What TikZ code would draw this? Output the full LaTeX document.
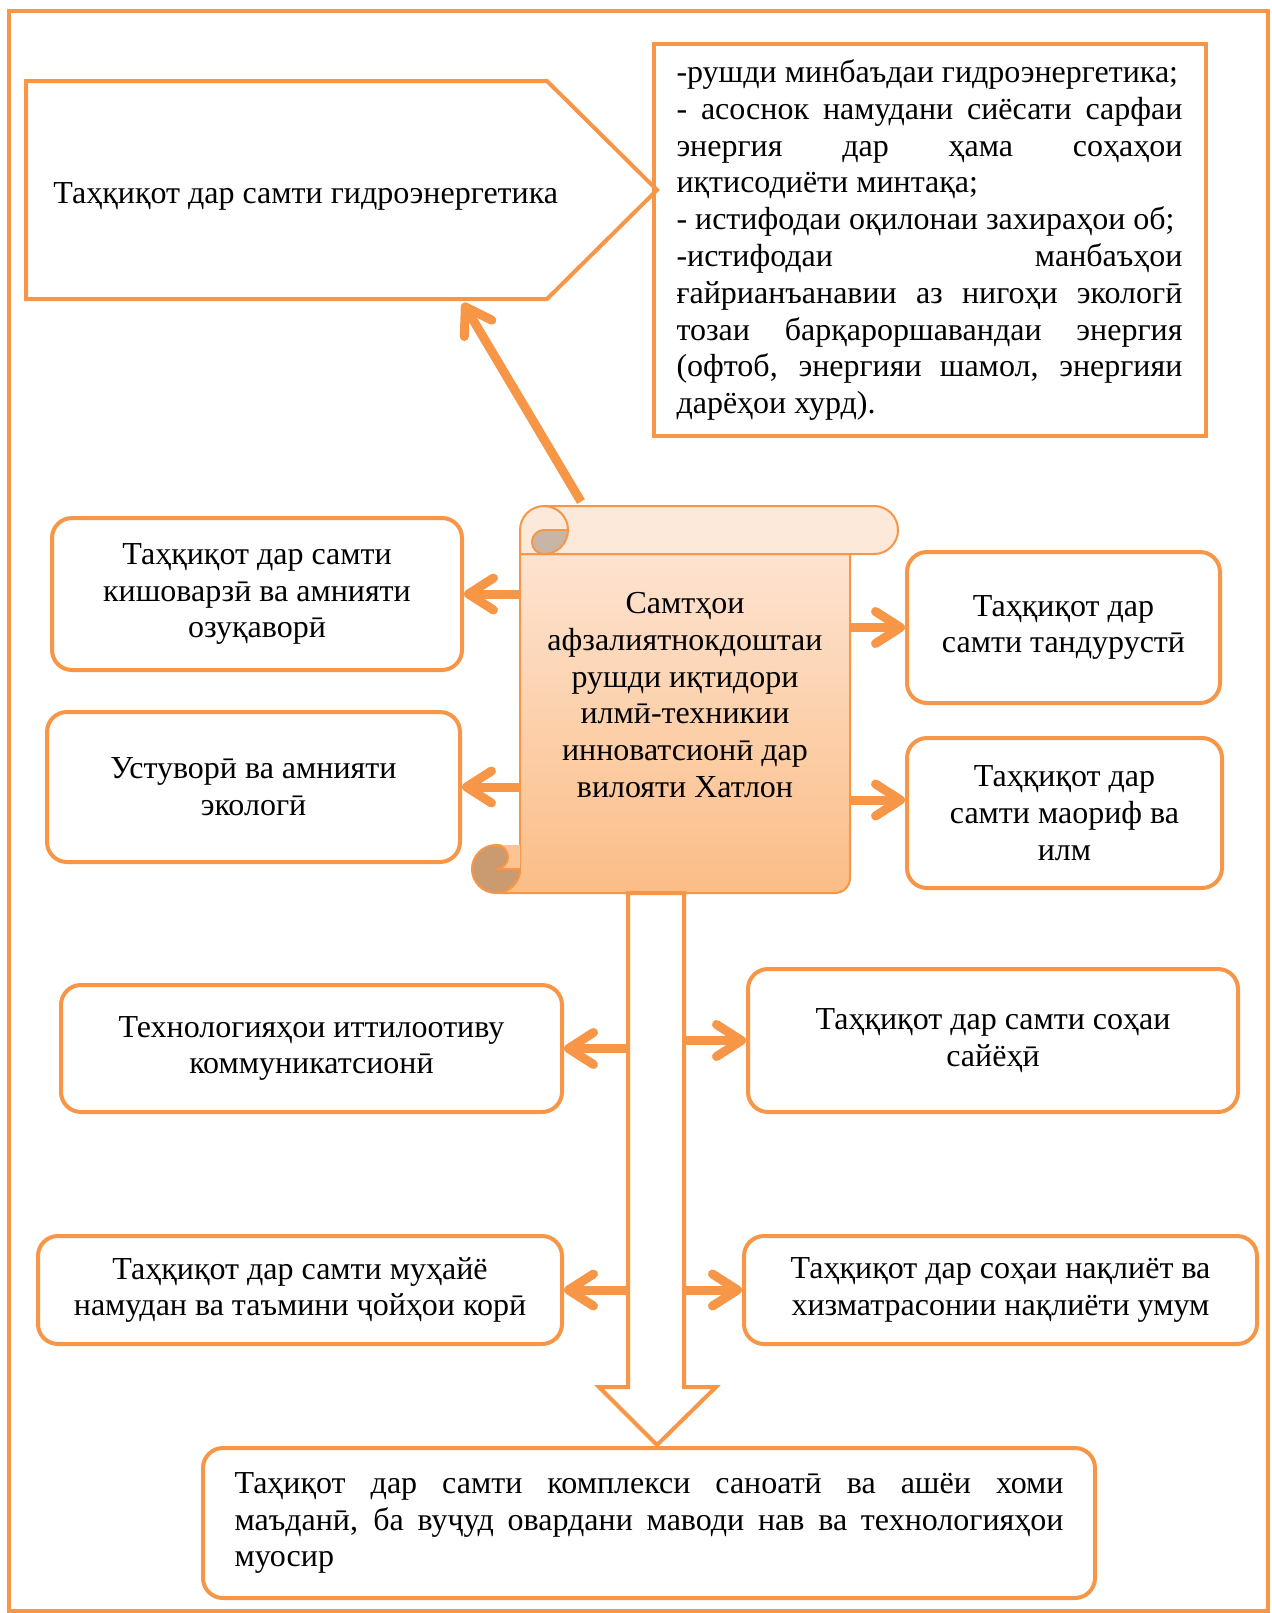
\documentclass[tikz,border=0pt]{standalone}
\usepackage{fontspec}
\setmainfont{Liberation Serif}
\usetikzlibrary{positioning,arrows.meta,calc}
\definecolor{accent}{HTML}{F79646}
\definecolor{rollfill}{HTML}{FDE9DA}
\definecolor{scrolltop}{HTML}{FDE3D0}
\definecolor{scrollbot}{HTML}{FBBD86}
\definecolor{curltop}{HTML}{C9B5A6}
\definecolor{curlbot}{HTML}{CA9A70}
\definecolor{notch}{HTML}{FCC493}
\newcommand{\boxfont}{\fontsize{16}{18.4}\selectfont}
\hyphenpenalty=10000
\exhyphenpenalty=10000
\tolerance=10000

\begin{document}
\begin{tikzpicture}[x=0.5pt,y=-0.5pt]
\tikzstyle{every node}=[font=\boxfont,inner sep=2pt]
\tikzstyle{topic}=[draw=accent,line width=2pt,rounded corners=10pt,fill=white,align=center]
\tikzstyle{arr}=[draw=accent,line width=4.5pt,-{Straight Barb[length=12.5pt,width=16pt,round]}]
\useasboundingbox (0,0) rectangle (1271,1613);
\draw[accent,line width=2pt] (9,11) rectangle (1268,1611);

\draw[accent,line width=2pt] (26,81) -- (547,81) -- (657,190) -- (547,299) -- (26,299) -- cycle;
\node[anchor=west] (hydro) at (49,196) {Таҳқиқот дар самти гидроэнергетика};
\coordinate (hydrotip) at (463,303);

\node[draw=accent,line width=2pt,text width=253pt,align=justify,inner xsep=11.5pt,minimum height=196pt] (goals) at (929.5,240)
  {-рушди минбаъдаи гидроэнергетика;\\
   - асоснок намудани сиёсати сарфаи\linebreak энергия дар ҳама соҳаҳои\linebreak иқтисодиёти минтақа;\\
   - истифодаи оқилонаи захираҳои об;\\
   -истифодаи манбаъҳои\linebreak ғайрианъанавии аз нигоҳи экологӣ\linebreak тозаи барқароршавандаи энергия\linebreak (офтоб, энергияи шамол, энергияи\linebreak дарёҳои хурд).};

\shade[top color=scrolltop,bottom color=scrollbot,draw=accent,line width=1pt]
  (520,554) -- (850,554) -- (850,878) arc[start angle=0,end angle=90,radius=15] -- (496,893) arc[start angle=90,end angle=0,radius=24] -- cycle;
\filldraw[fill=curlbot,draw=accent,line width=1pt] (496,869) circle[radius=24];
\fill[notch] (496,845) -- (520,845) -- (520,869) -- (496,869) arc[start angle=90,end angle=-90,radius=12] -- cycle;
\draw[accent,line width=1pt] (520,869) -- (496,869) arc[start angle=90,end angle=-90,radius=12];
\filldraw[fill=rollfill,draw=accent,line width=1pt]
  (520,554) -- (520,530) arc[start angle=180,end angle=270,radius=24] -- (874,506) arc[start angle=270,end angle=450,radius=24] -- cycle;
\filldraw[fill=curltop,draw=accent,line width=1pt]
  (544,530) -- (568,530) arc[start angle=0,end angle=90,radius=24] arc[start angle=90,end angle=270,radius=12] -- cycle;
\draw[accent,line width=1pt] (544,506) arc[start angle=270,end angle=360,radius=24];
\node[align=center,minimum width=165pt,minimum height=189pt] (scroll) at (685,695)
  {Самтҳои\\афзалиятнокдоштаи\\рушди иқтидори\\илмӣ-техникии\\инноватсионӣ дар\\вилояти Хатлон};

\filldraw[fill=white,draw=accent,line width=2pt]
  (628,893) -- (628,1387) -- (599,1387) -- (657,1445) -- (716,1387) -- (684,1387) -- (684,893) -- cycle;
\coordinate (shaftL) at (628,0);
\coordinate (shaftR) at (684,0);

\node[topic,minimum width=205pt,minimum height=76pt] (agri) at (257,594) {Таҳқиқот дар самти\\кишоварзӣ ва амнияти\\озуқаворӣ};
\node[topic,minimum width=206.5pt,minimum height=75pt] (eco) at (253.5,787) {Устуворӣ ва амнияти\\экологӣ};
\node[topic,minimum width=156.5pt,minimum height=75.5pt] (health) at (1063.5,627.5) {Таҳқиқот дар\\самти тандурустӣ};
\node[topic,minimum width=157.5pt,minimum height=75pt] (science) at (1064.5,813) {Таҳқиқот дар\\самти маориф ва\\илм};
\node[topic,minimum width=250.5pt,minimum height=63.5pt] (ict) at (311.5,1048.5) {Технологияҳои иттилоотиву\\коммуникатсионӣ};
\node[topic,minimum width=245pt,minimum height=71.5pt] (tour) at (993,1040.5) {Таҳқиқот дар самти соҳаи\\сайёҳӣ};
\node[topic,minimum width=262pt,minimum height=54pt] (jobs) at (300,1290) {Таҳқиқот дар самти муҳайё\\намудан ва таъмини ҷойҳои корӣ};
\node[topic,minimum width=256.5pt,minimum height=54pt] (transp) at (1000.5,1290) {Таҳқиқот дар соҳаи нақлиёт ва\\хизматрасонии нақлиёти умум};
\node[topic,text width=414.5pt,align=justify,minimum width=446pt,minimum height=75pt] (industry) at (649,1523)
  {Таҳиқот дар самти комплекси саноатӣ ва ашёи хоми\linebreak маъданӣ, ба вуҷуд овардани маводи нав ва технологияҳои\linebreak муосир};

\coordinate (sci) at ([yshift=6.5pt]science.west);
\draw[arr] ([shift={(-52pt,2pt)}]scroll.north) -- (hydrotip);
\draw[arr] (scroll.west |- agri.east) -- (agri.east);
\draw[arr] (scroll.west |- eco.east) -- (eco.east);
\draw[arr] (scroll.east |- health.west) -- (health.west);
\draw[arr] (scroll.east |- sci) -- (sci);
\draw[arr] (shaftL |- ict.east) -- (ict.east);
\draw[arr] (shaftR |- tour.west) -- (tour.west);
\draw[arr] (shaftL |- jobs.east) -- (jobs.east);
\draw[arr] (shaftR |- transp.west) -- (transp.west);
\end{tikzpicture}
\end{document}
